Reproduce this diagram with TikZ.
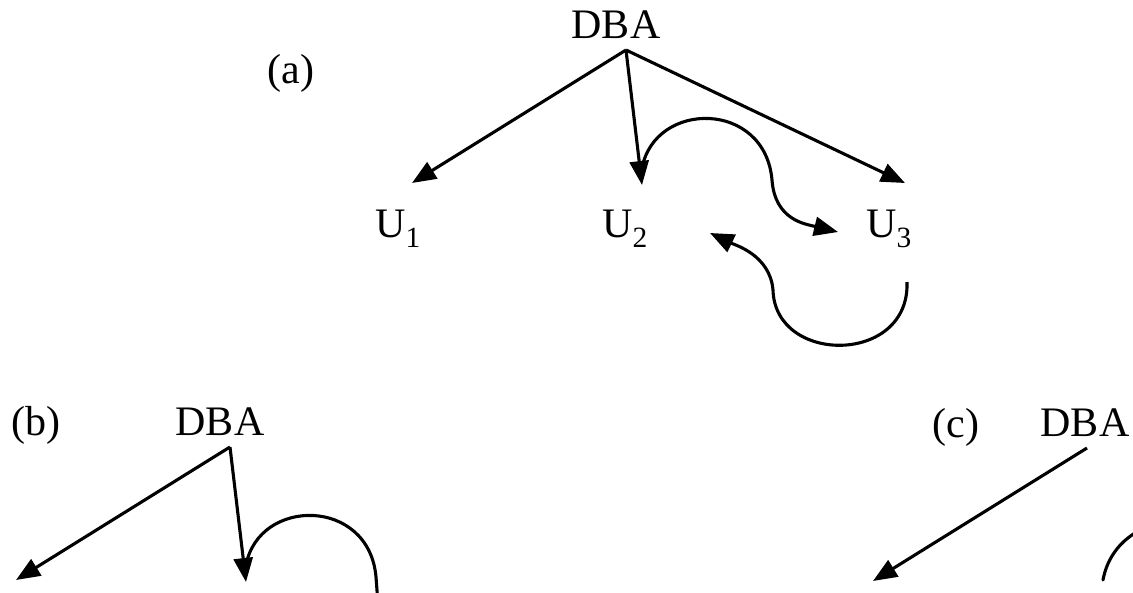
\documentclass[tikz,border=0pt]{standalone}
\usepackage{fontspec}
\setmainfont{Liberation Serif}
\usetikzlibrary{arrows.meta}

\begin{document}
\begin{tikzpicture}[x=1pt, y=-1pt, line width=3.1pt,
     lbl/.style={inner sep=0pt, anchor=base, font=\fontsize{42}{50}\selectfont},
     arr/.style={-{Triangle[length=24pt,width=19pt]}},
     crv/.style={line cap=round}]
  \clip (0,0) rectangle (1133,592);
  % (a)
  \node[lbl] (labA) at (291,83) {(a)};
  \begin{scope}[shift={(626,50)}]
   \coordinate (apA) at (0,0);
   \node[lbl] (dbaA) at (-10,-12) {DBA};
   \node[lbl] (uA1) at (-228,187) {U\textsubscript{1}};
   \node[lbl] (uA2) at (-1,187) {U\textsubscript{2}};
   \node[lbl] (uA3) at (263,187) {U\textsubscript{3}};
   \coordinate (tA1) at (-214,133);
   \coordinate (tA2) at (16,135);
   \coordinate (tA3) at (279,133);
   \draw[arr] (apA) -- (tA1);
   \draw[arr] (apA) -- (tA2);
   \draw[arr] (apA) -- (tA3);
   % exchange U2 -> U3 and back
   \coordinate (cA1) at (16,118);
   \coordinate (cA2) at (146,130);
   \coordinate (cA3) at (212,182);
   \draw[arr] (cA1) .. controls (29,50) and (139,50) .. (cA2)
      .. controls (149,170) and (179,174) .. (cA3);
   \coordinate (dA1) at (281,232);
   \coordinate (dA2) at (147,240);
   \coordinate (dA3) at (84,183);
   \draw[arr] (dA1) .. controls (284,315) and (149,315) .. (dA2)
      .. controls (144,205) and (109,195) .. (dA3);
  \end{scope}
  % (b)
  \node[lbl] (labB) at (36,435) {(b)};
  \begin{scope}[shift={(230,447)}]
   \coordinate (apB) at (0,0);
   \node[lbl] (dbaB) at (-10,-12) {DBA};
   \coordinate (tB1) at (-214,133);
   \coordinate (tB2) at (16,135);
   \draw[arr] (apB) -- (tB1);
   \draw[arr] (apB) -- (tB2);
   \coordinate (cB1) at (16,118);
   \coordinate (cB2) at (146,130);
   \coordinate (cB3) at (149,170);
   \draw[crv] (cB1) .. controls (29,50) and (139,50) .. (cB2) -- (cB3);
  \end{scope}
  % (c)
  \node[lbl] (labC) at (956,437) {(c)};
  \begin{scope}[shift={(1087,448)}]
   \coordinate (apC) at (0,0);
   \node[lbl] (dbaC) at (-2,-12) {DBA};
   \coordinate (tC1) at (-214,133);
   \draw[arr] (apC) -- (tC1);
   \coordinate (cC1) at (16,132);
   \coordinate (cC2) at (146,130);
   \draw[crv] (cC1) .. controls (29,60) and (139,50) .. (cC2);
  \end{scope}
\end{tikzpicture}
\end{document}
